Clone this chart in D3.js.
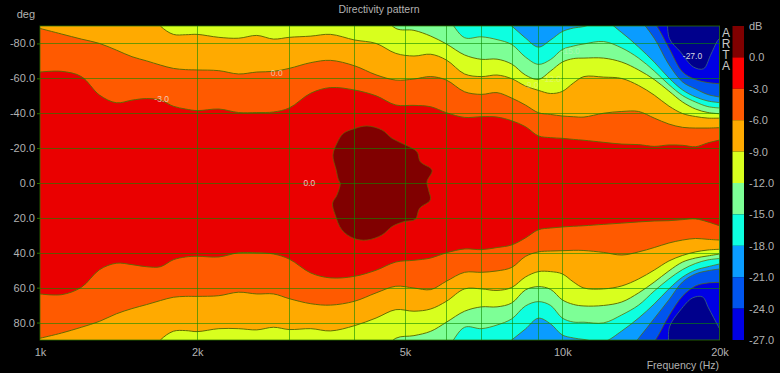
<!DOCTYPE html>
<html><head><meta charset="utf-8">
<script src="https://cdn.jsdelivr.net/npm/d3@7"></script>
<style>html,body{margin:0;padding:0;background:#000}svg{display:block}text{font-family:"Liberation Sans",Arial,sans-serif}</style>
</head><body><div id="c"></div>
<script>
// Frequency columns (Hz) shared by all contour arrays
const freqs=[1000,1100,1200,1300,1400,1500,1600,1700,1800,1900,2000,2200,2400,2600,2800,3000,3300,3600,4000,4400,4800,5200,5600,6000,6500,7000,7500,8000,8500,9000,9500,10000,10500,11000,12000,13000,14000,15000,16000,17000,18000,19000,20000];
// Contour angle (deg) per level: upper edge (negative angles) and lower edge (positive). +/-100 = beyond the plot
const m3Top=[-63.6,-64,-61,-50.4,-46,-47.5,-48.4,-47.5,-44,-42.4,-41.5,-42.4,-40.4,-40.4,-40.7,-43,-51.5,-54.7,-53.3,-50,-44.7,-44.5,-43.7,-40.3,-37.6,-38,-37.8,-35.7,-32.3,-27,-26,-25.6,-25,-24.5,-23.3,-22.3,-22,-21,-21.8,-21.6,-20.8,-23,-24.6];
const m3Bot=[63.6,64,59.8,49.7,46,46.8,48,48,44,42.4,42,42.4,40,40,40.7,43.6,51.6,54.4,53.5,50,45.3,44.3,43,40,37.8,38.2,37,35.5,31.5,26.8,25.8,25.2,24.8,24.5,23.7,23,22.3,21.8,21.6,21,20.6,22.3,24.5];
const m6Top=[-88.6,-85.4,-82.5,-80,-76.2,-72.4,-70,-67.6,-65.7,-65,-64.8,-64.4,-62.5,-63.6,-64,-65.7,-69,-70.3,-67.2,-62,-59,-59.6,-61,-59,-52.3,-50.8,-51.8,-48.7,-44.7,-40.3,-39.3,-38.4,-38,-37.8,-40,-41,-41,-37.2,-33.8,-31.9,-31.5,-31.5,-31.7];
const m6Bot=[89,86,82.7,79.3,75,72,69.7,67.4,65.5,65,65,64.6,62.6,63.6,63.6,66.3,69.2,70,67.8,63,59.2,60.2,61.1,56.3,51.2,51.2,50.4,48.4,42.1,39.5,39,38.8,38.6,38.7,39.8,41.3,39.5,37,34.4,32.7,31.8,32.3,32.7];
const m9Top=[-100,-100,-100,-100,-100,-100,-100,-90,-85.2,-85,-85.2,-83.5,-83,-84.6,-82.5,-83.5,-84.2,-85.2,-82,-80,-74.3,-72.8,-73.8,-70.5,-62.5,-61,-61.9,-59.8,-55.6,-53.1,-51.3,-52.5,-57.3,-61,-60.7,-59.9,-55.9,-50.4,-44.1,-39.8,-38.1,-37.2,-37.2];
const m9Bot=[100,100,100,100,100,100,100,90,85,84.6,85.2,83.5,83.5,84.2,82.7,84,83.5,84.8,81.8,77.4,72.6,73.5,72.2,67.8,60.7,60.7,61.6,59.9,53.9,50.8,50.8,52.1,56.7,60.2,60.7,59,55,49.9,44.7,41.5,39.5,38.4,38];
const m12Top=[-100,-100,-100,-100,-100,-100,-100,-100,-100,-100,-100,-100,-100,-100,-100,-100,-100,-100,-100,-100,-88.6,-87.5,-84.2,-79.7,-73.4,-70.9,-71,-68.2,-61.9,-59.4,-64.2,-69.3,-71.3,-71.6,-71.6,-69.3,-64.8,-59.3,-52.7,-46.4,-42.4,-40.4,-39.7];
const m12Bot=[100,100,100,100,100,100,100,100,100,100,100,100,100,100,100,100,100,100,100,100,89,87.5,85,79.8,73.5,71,71,68.8,61.3,59.4,61,67,69.6,70.5,70.2,68.2,63,56.8,50.4,45.3,43,41.8,40.7];
const m15Top=[-100,-100,-100,-100,-100,-100,-100,-100,-100,-100,-100,-100,-100,-100,-100,-100,-100,-100,-100,-100,-100,-100,-100,-95,-83.3,-83.8,-82.2,-79.4,-72.2,-68,-70.8,-76.5,-78.5,-79.7,-81.1,-77.4,-71.6,-64.2,-56.4,-50.1,-46.4,-43.8,-43];
const m15Bot=[100,100,100,100,100,100,100,100,100,100,100,100,100,100,100,100,100,100,100,100,100,100,100,95,82.7,83.5,81.4,77.9,70.5,68,70.2,77.4,79.7,79.8,80.2,75.6,70,61.9,55,49.6,46.1,44.1,43.3];
const m18Top=[-100,-100,-100,-100,-100,-100,-100,-100,-100,-100,-100,-100,-100,-100,-100,-100,-100,-100,-100,-100,-100,-100,-100,-100,-100,-100,-96,-90,-83.1,-77.9,-82,-86.8,-88.8,-89.7,-93,-86.2,-77.9,-69.3,-60.2,-53.3,-49.3,-47,-46.1];
const m18Bot=[100,100,100,100,100,100,100,100,100,100,100,100,100,100,100,100,100,100,100,100,100,100,100,100,100,100,96,90,83.7,77.5,80.8,87.1,88.8,89.7,91,84.8,77.4,69.3,60.7,53.9,49.9,48,46.4];
const m21Top=[-100,-100,-100,-100,-100,-100,-100,-100,-100,-100,-100,-100,-100,-100,-100,-100,-100,-100,-100,-100,-100,-100,-100,-100,-100,-100,-100,-100,-100,-100,-100,-100,-100,-100,-100,-100,-94,-83,-67.9,-57.9,-53.9,-50.7,-49.3];
const m21Bot=[100,100,100,100,100,100,100,100,100,100,100,100,100,100,100,100,100,100,100,100,100,100,100,100,100,100,100,100,100,100,100,100,100,100,100,100,89,77.7,67,56.7,52.1,50.3,49.3];
const m24Top=[-100,-100,-100,-100,-100,-100,-100,-100,-100,-100,-100,-100,-100,-100,-100,-100,-100,-100,-100,-100,-100,-100,-100,-100,-100,-100,-100,-100,-100,-100,-100,-100,-100,-100,-100,-100,-100,-92,-77.4,-63.6,-59.3,-57.6,-56.9];
const m24Bot=[100,100,100,100,100,100,100,100,100,100,100,100,100,100,100,100,100,100,100,100,100,100,100,100,100,100,100,100,100,100,100,100,100,100,100,100,100,91,76.2,64.8,59,57.3,57];
// Closed contours: 0 dB blob, and the two -27 dB corners
const peakFreq=[4227,4014,3812,3703,3638,3691,3729,3757,3703,3632,3675,3785,3984,4227,4516,4720,4967,5231,5331,5588,5546,5508,5630,5348,5270,4967,4720,4516];
const peakDeg=[-32.7,-31.3,-28.5,-22.8,-16,-7.4,-1.7,0.2,6.9,11.6,18.3,26.9,31.7,32.7,29.8,25,22.2,20.8,14.5,9.7,4,-0.7,-7.4,-12.2,-17.9,-22.3,-25.6,-30.4];
const nullTopFreq=[15900,16040,16840,17830,18640,19220,19850,20200,20200,15900];
const nullTopDeg=[-92,-82.7,-75.1,-66.5,-65.5,-73.2,-81.8,-84.2,-92,-92];
const nullBotFreq=[15990,16040,16840,17755,18555,19053,19915,20200,20200,15990];
const nullBotDeg=[92,82.5,72.8,65.9,65.3,71.6,82.5,86,92,92];
// Axes, legend
const bandColors=["#800000","#ea0000","#ff5a00","#ffaa00","#d8ff1e","#7dff96","#0dffe0","#0a9cff","#0055ee","#0000e4"];
const dbEdges=[3,0,-3,-6,-9,-12,-15,-18,-21,-24,-27];
const dbTicks=[0,-3,-6,-9,-12,-15,-18,-21,-24,-27];
const nullColor="#00008c";
const deepColor="#0000e4";
const degTicks=[-80,-60,-40,-20,0,20,40,60,80];
const freqTicks=[1000,2000,5000,10000,20000];
const freqLabels=["1k","2k","5k","10k","20k"];
const freqGrid=[2000,3000,4000,5000,6000,7000,8000,9000,10000];
const contourLabels=[["-3.0",1710,-48],["0.0",2840,-63],["0.0",3280,0],["-27.0",17755,-72.6],["-9.0",8720,-56.3],["-12.0",9530,-59.6],["-15.0",10360,-75.6]];
const labelOpacity=[.75,.65,.8,.9,.35,.35,.35];

const W=780,H=373,L=40,R=719.5,T=26,B=340;
const x=d3.scaleLog().domain([1000,20000]).range([L,R]);
const y=d3.scaleLinear().domain([-90,90]).range([T,B]);
const svg=d3.select("#c").append("svg").attr("width",W).attr("height",H).style("background","#000");
svg.append("defs").append("clipPath").attr("id","plot").append("rect").attr("x",L).attr("y",T).attr("width",R-L).attr("height",B-T);
const g=svg.append("g").attr("clip-path","url(#plot)");
g.append("rect").attr("x",L).attr("y",T).attr("width",R-L).attr("height",B-T).attr("fill",deepColor);

const closed=d3.line().curve(d3.curveCatmullRomClosed.alpha(.5));
const poly=d3.line().curve(d3.curveCatmullRom.alpha(.5));
[[nullTopFreq,nullTopDeg],[nullBotFreq,nullBotDeg]].forEach(([f,a])=>{
  g.append("path").attr("d",poly(f.map((v,i)=>[x(v),y(a[i])]))+"Z").attr("fill",nullColor).attr("stroke","#3a6a78").attr("stroke-width",.8);
});
const contours=[[m24Top,m24Bot,8],[m21Top,m21Bot,7],[m18Top,m18Bot,6],[m15Top,m15Bot,5],[m12Top,m12Bot,4],[m9Top,m9Bot,3],[m6Top,m6Bot,2],[m3Top,m3Bot,1]];
const smooth=d3.curveCatmullRom.alpha(.5);
const area=d3.area().curve(smooth).x(d=>x(d.f)).y0(d=>y(d.t)).y1(d=>y(d.b));
const edge=d3.line().curve(smooth).x(d=>x(d.f)).y(d=>y(d.a));
contours.forEach(([t,b,c])=>{
  const rows=freqs.map((f,i)=>({f,t:t[i],b:b[i]}));
  g.append("path").attr("d",area(rows)).attr("fill",bandColors[c]);
  [t,b].forEach(arr=>g.append("path").attr("d",edge(freqs.map((f,i)=>({f,a:arr[i]})))).attr("fill","none").attr("stroke","#5c6a00").attr("stroke-width",1).attr("stroke-opacity",c>=5?.75:.95));
});
g.append("path").attr("d",closed(peakFreq.map((f,i)=>[x(f),y(peakDeg[i])]))).attr("fill",bandColors[0]).attr("stroke","#6b5a00").attr("stroke-width",.8);

// grid
const gridG=g.append("g").attr("stroke","#0a8a00").attr("stroke-opacity",.6).attr("stroke-width",1);
gridG.selectAll("line.v").data(freqGrid).join("line").attr("x1",d=>Math.round(x(d))+.5).attr("x2",d=>Math.round(x(d))+.5).attr("y1",T).attr("y2",B);
gridG.selectAll("line.h").data(degTicks).join("line").attr("y1",d=>Math.round(y(d))+.5).attr("y2",d=>Math.round(y(d))+.5).attr("x1",L).attr("x2",R);
svg.append("rect").attr("x",L).attr("y",T).attr("width",R-L).attr("height",B-T).attr("fill","none").attr("stroke","#2c7a00").attr("stroke-opacity",.75).attr("stroke-width",1);

// contour labels
svg.selectAll("text.cl").data(contourLabels).join("text").attr("class","cl").attr("x",d=>x(d[1])).attr("y",d=>y(d[2])).attr("dy",".35em").attr("text-anchor","middle").attr("font-size",8.5).attr("fill","#eee").attr("fill-opacity",(d,i)=>labelOpacity[i]).text(d=>d[0]);

// axes
const txt="#b2b2b2";
const ya=svg.append("g").attr("transform",`translate(${L},0)`).call(d3.axisLeft(y).tickValues(degTicks).tickFormat(d=>d.toFixed(1)).tickSize(3).tickPadding(2));
ya.select(".domain").remove();ya.selectAll("line").attr("stroke","#2c7a00");ya.selectAll("text").attr("fill",txt).attr("font-size",11);
ya.attr("font-family",null);
const xa=svg.append("g").attr("transform",`translate(0,${B})`).call(d3.axisBottom(x).tickValues(freqTicks).tickFormat((d,i)=>freqLabels[i]).tickSize(0).tickPadding(8));
xa.select(".domain").remove();xa.selectAll("text").attr("fill",txt).attr("font-size",11);
xa.attr("font-family",null);

svg.append("text").attr("x",379).attr("y",12.5).attr("text-anchor","middle").attr("font-size",10.5).attr("fill",txt).text("Directivity pattern");
svg.append("text").attr("x",35).attr("y",18).attr("text-anchor","end").attr("font-size",11).attr("fill",txt).text("deg");
svg.append("text").attr("x",719).attr("y",368.5).attr("text-anchor","end").attr("font-size",10.5).attr("fill",txt).text("Frequency (Hz)");
svg.append("text").attr("x",726).attr("y",26).style("writing-mode","vertical-rl").style("text-orientation","upright").style("letter-spacing","-3px").attr("font-size",12).attr("fill","#c8c8c8").text("ARTA");

// colour bar
const yDb=d3.scaleLinear().domain([3,-27]).range([T,B]);
svg.selectAll("rect.bar").data(bandColors).join("rect").attr("class","bar").attr("x",732.5).attr("width",11.5)
  .attr("y",(d,i)=>yDb(dbEdges[i])).attr("height",(d,i)=>yDb(dbEdges[i+1])-yDb(dbEdges[i])).attr("fill",(d,i)=>i===1?"#ff0000":d);
const ca=svg.append("g").attr("transform","translate(744,0)").call(d3.axisRight(yDb).tickValues(dbTicks).tickFormat(d=>d.toFixed(1)).tickSize(0).tickPadding(5));
ca.select(".domain").remove();ca.selectAll("text").attr("fill",txt).attr("font-size",11);
ca.attr("font-family",null);
svg.append("text").attr("x",749).attr("y",30).attr("font-size",11).attr("fill",txt).text("dB");
</script></body></html>
